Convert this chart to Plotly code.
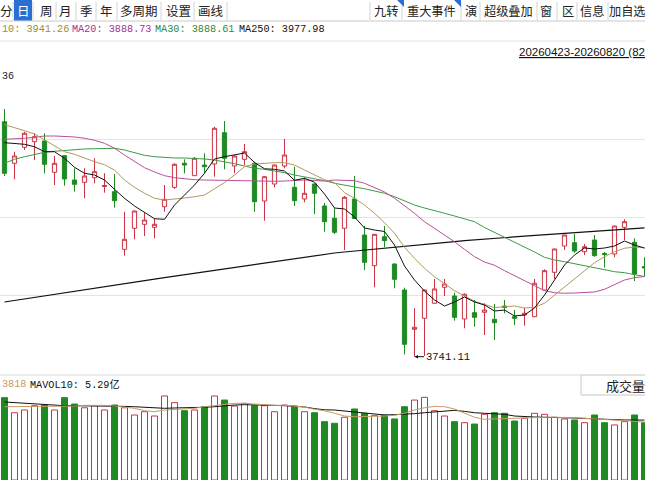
import plotly.graph_objects as go

# ---------------- data ----------------
idx = list(range(65))  # trading-day index of visible candles

open_ = [4173.5, 4097.0, 4126.4, 4136.7, 4138.0, 4080.4, 4111.0, 4066.2, 4062.0, 4070.5,
         4054.3, 4044.7, 3938.7, 3977.4, 3984.7, 3979.2, 4017.1, 4052.8, 4097.0, 4074.2,
         4093.8, 4095.7, 4153.3, 4092.0, 4104.3, 4097.0, 4027.6, 4058.9, 4092.0, 4052.8,
         4031.3, 4058.9, 4018.4, 3995.8, 3977.4, 4031.3, 3965.0, 3908.6, 3961.9, 3911.7,
         3863.8, 3791.5, 3811.8, 3839.4, 3868.8, 3852.8, 3810.5, 3822.1, 3822.8, 3809.9,
         3834.4, 3814.7, 3817.8, 3814.7, 3863.8, 3896.4, 3944.8, 3950.9, 3934.3, 3955.8,
         3931.0, 3930.1, 3979.2, 3951.6, 3907.1]
high = [4196.9, 4118.3, 4155.1, 4152.2, 4152.2, 4110.4, 4112.0, 4087.8, 4087.8, 4106.2,
        4078.6, 4077.3, 4007.9, 4010.0, 4006.1, 3995.8, 4057.0, 4097.0, 4104.3, 4108.6,
        4115.4, 4164.3, 4174.8, 4111.0, 4132.5, 4099.9, 4073.6, 4094.5, 4141.7, 4090.7,
        4070.5, 4059.5, 4023.9, 4014.2, 4036.8, 4073.6, 3981.6, 3966.9, 3981.6, 3912.5,
        3868.1, 3830.2, 3864.5, 3884.1, 3884.1, 3858.9, 3857.8, 3845.4, 3839.4, 3838.1,
        3845.4, 3827.0, 3831.3, 3884.1, 3901.9, 3940.0, 3965.6, 3966.9, 3948.5, 3965.0,
        3933.8, 3982.2, 3993.9, 3959.0, 3924.0]
low = [4073.6, 4067.5, 4121.4, 4103.0, 4078.6, 4057.0, 4055.8, 4044.7, 4032.6, 4060.2,
       4042.9, 4015.3, 3927.0, 3957.1, 3963.2, 3959.0, 4007.9, 4049.7, 4078.6, 4073.6,
       4078.6, 4072.3, 4085.9, 4078.6, 4093.8, 4007.9, 3991.4, 4052.8, 4087.8, 4018.4,
       4025.2, 4003.7, 3971.1, 3966.9, 3937.4, 3994.5, 3900.6, 3868.8, 3942.4, 3867.0,
       3745.5, 3741.11, 3742.4, 3838.7, 3852.8, 3807.4, 3793.4, 3796.3, 3781.0, 3771.8,
       3821.0, 3799.4, 3798.2, 3814.0, 3863.0, 3884.1, 3937.4, 3932.5, 3928.2, 3925.1,
       3905.2, 3924.0, 3955.8, 3880.4, 3888.3]
close = [4078.6, 4110.4, 4152.2, 4145.9, 4095.1, 4097.0, 4068.1, 4058.3, 4073.6, 4081.5,
         4056.1, 4028.2, 3957.1, 4009.2, 3992.6, 3984.7, 4030.7, 4095.1, 4093.8, 4106.2,
         4090.7, 4161.4, 4106.2, 4110.4, 4118.3, 4026.3, 4072.3, 4093.8, 4112.2, 4028.2,
         4041.8, 4041.8, 3989.5, 3970.0, 4034.4, 3995.4, 3914.8, 3966.3, 3954.6, 3883.5,
         3763.9, 3795.2, 3863.8, 3865.7, 3874.9, 3813.6, 3855.9, 3813.6, 3827.0, 3803.7,
         3831.6, 3811.8, 3821.0, 3876.2, 3899.4, 3939.3, 3965.0, 3935.6, 3943.5, 3927.0,
         3929.2, 3981.6, 3989.5, 3893.3, 3904.3]

ma5 = [4134.9, 4133.8, 4131.9, 4127.5, 4118.3, 4118.3, 4106.2, 4089.6, 4078.6, 4075.4,
       4066.2, 4049.1, 4032.6, 4018.4, 4006.1, 3995.0, 3993.9, 4020.2, 4038.6, 4057.0,
       4078.6, 4104.9, 4109.1, 4112.8, 4115.9, 4098.4, 4086.9, 4085.9, 4082.8, 4065.7,
       4069.4, 4062.2, 4040.5, 4014.7, 4012.9, 3998.2, 3977.9, 3974.2, 3971.5, 3946.6,
       3908.0, 3882.2, 3862.0, 3845.4, 3834.4, 3841.8, 3851.0, 3841.8, 3836.2, 3825.2,
       3827.0, 3816.0, 3817.8, 3830.7, 3854.6, 3882.2, 3909.8, 3928.2, 3941.1, 3939.3,
       3941.1, 3944.8, 3954.0, 3946.6, 3941.1]
ma10 = [4168.0, 4163.2, 4157.0, 4150.9, 4139.8, 4128.8, 4118.3, 4113.5, 4106.2, 4099.9,
        4094.4, 4084.6, 4066.2, 4052.8, 4041.8, 4032.6, 4029.4, 4030.7, 4033.1, 4035.5,
        4038.6, 4050.2, 4061.3, 4075.4, 4090.7, 4095.7, 4097.0, 4098.1, 4098.1, 4093.8,
        4084.6, 4075.4, 4066.8, 4061.3, 4042.9, 4032.6, 4020.2, 4005.0, 3987.7, 3968.2,
        3942.4, 3922.2, 3903.8, 3888.3, 3874.9, 3862.6, 3852.8, 3843.1, 3837.5, 3831.3,
        3833.1, 3834.4, 3830.7, 3832.0, 3839.4, 3854.6, 3869.9, 3885.4, 3900.6, 3914.1,
        3925.1, 3934.3, 3940.6, 3943.0, 3941.26]
ma20 = [4141.1, 4141.7, 4143.0, 4144.8, 4147.2, 4147.2, 4146.7, 4145.4, 4143.0, 4139.3,
        4133.8, 4124.6, 4112.2, 4099.9, 4088.9, 4081.0, 4074.2, 4070.5, 4068.1, 4066.8,
        4066.2, 4065.7, 4065.0, 4065.0, 4065.0, 4064.4, 4063.9, 4063.9, 4064.4, 4065.7,
        4066.2, 4065.3, 4064.4, 4066.2, 4066.2, 4065.0, 4060.2, 4052.8, 4044.2, 4032.6,
        4019.0, 4005.0, 3989.5, 3977.4, 3965.0, 3952.7, 3938.7, 3925.1, 3915.4, 3909.3,
        3899.4, 3890.2, 3881.0, 3871.8, 3862.6, 3858.9, 3857.8, 3858.3, 3858.9, 3860.2,
        3865.1, 3873.6, 3882.2, 3886.5, 3888.73]
ma30 = [4097.0, 4104.3, 4109.1, 4113.5, 4117.2, 4119.1, 4120.9, 4122.7, 4123.3, 4123.8,
        4124.6, 4124.6, 4121.4, 4116.5, 4111.7, 4109.1, 4107.3, 4106.7, 4106.7, 4106.2,
        4104.9, 4103.0, 4099.9, 4096.2, 4092.0, 4087.8, 4085.9, 4083.4, 4079.7, 4075.4,
        4072.3, 4068.6, 4065.0, 4060.2, 4057.0, 4053.9, 4050.2, 4046.0, 4041.8, 4035.5,
        4028.2, 4020.2, 4014.7, 4009.2, 4005.0, 4000.0, 3995.0, 3989.5, 3978.8, 3970.0,
        3961.4, 3952.2, 3943.0, 3933.8, 3924.0, 3919.0, 3915.9, 3912.2, 3908.6, 3904.9,
        3900.6, 3897.5, 3895.7, 3892.7, 3888.61]
ma250 = [3841.8, 3844.5, 3847.3, 3850.2, 3853.0, 3855.7, 3858.5, 3861.3, 3864.2, 3867.0,
         3869.7, 3872.5, 3875.3, 3878.2, 3881.0, 3883.7, 3886.7, 3889.4, 3892.2, 3894.8,
         3897.5, 3900.3, 3903.0, 3905.6, 3908.4, 3911.1, 3913.9, 3916.7, 3919.2, 3922.0,
         3924.7, 3927.5, 3930.3, 3931.9, 3933.8, 3935.4, 3937.1, 3938.9, 3940.6, 3942.4,
         3944.1, 3945.9, 3947.6, 3949.2, 3951.1, 3952.7, 3954.6, 3956.2, 3957.7, 3959.0,
         3960.3, 3961.5, 3962.8, 3964.1, 3965.4, 3966.7, 3968.0, 3969.3, 3970.6, 3971.9,
         3973.1, 3974.4, 3975.7, 3977.0, 3977.98]

vol = [7.27, 5.94, 6.18, 6.56, 6.62, 6.18, 7.27, 6.71, 6.38, 6.56,
       6.18, 6.62, 6.38, 5.74, 6.03, 5.65, 7.42, 6.83, 6.12, 6.18,
       6.47, 7.42, 7.06, 6.53, 6.77, 6.56, 6.56, 6.03, 6.62, 6.53,
       6.03, 5.94, 5.15, 5.01, 5.54, 6.27, 5.89, 5.68, 5.74, 5.39,
       6.47, 7.06, 7.30, 6.12, 5.65, 5.15, 5.06, 4.94, 5.80, 5.94,
       5.89, 5.21, 5.45, 5.89, 5.80, 5.54, 5.39, 5.30, 5.06, 5.74,
       5.06, 4.86, 5.15, 5.74, 5.06]
mavol5 = [6.47, 6.47, 6.47, 6.47, 6.47, 6.47, 6.47, 6.53, 6.59, 6.62,
          6.59, 6.53, 6.45, 6.33, 6.12, 6.03, 6.18, 6.24, 6.24, 6.33,
          6.47, 6.59, 6.68, 6.77, 6.77, 6.71, 6.62, 6.59, 6.59, 6.53,
          6.45, 6.24, 6.12, 5.89, 5.65, 5.59, 5.59, 5.62, 5.65, 5.71,
          5.89, 6.18, 6.38, 6.50, 6.47, 6.27, 5.89, 5.54, 5.36, 5.39,
          5.45, 5.50, 5.54, 5.54, 5.54, 5.54, 5.54, 5.50, 5.45, 5.41,
          5.36, 5.30, 5.24, 5.18, 5.12]
mavol10 = [6.89, 6.83, 6.77, 6.71, 6.65, 6.62, 6.56, 6.56, 6.56, 6.53,
           6.53, 6.50, 6.50, 6.47, 6.42, 6.36, 6.33, 6.36, 6.36, 6.38,
           6.42, 6.47, 6.56, 6.62, 6.65, 6.65, 6.62, 6.59, 6.56, 6.53,
           6.45, 6.30, 6.20, 6.18, 6.09, 6.00, 5.92, 5.83, 5.74, 5.77,
           5.80, 5.86, 5.94, 6.03, 6.12, 6.15, 6.06, 5.94, 5.89, 5.86,
           5.80, 5.65, 5.59, 5.56, 5.54, 5.54, 5.50, 5.47, 5.45, 5.41,
           5.39, 5.33, 5.30, 5.30, 5.29]

price_grid = [3853.7, 3997.6, 4141.1]
low_label = "3741.11"

toolbar_left = ["分", "日", "周", "月", "季", "年", "多周期", "设置", "画线"]
toolbar_right = ["九转", "重大事件", "演", "超级叠加", "窗", "区", "信息", "加自选"]
legend_items = [("10: 3941.26", "ma10"), ("MA20: 3888.73", "ma20"),
                ("MA30: 3888.61", "ma30"), ("MA250: 3977.98", "ma250")]
date_range_text = "20260423-20260820 (82"

# ---------------- styling ----------------
W, H = 645, 484
RED = "#cc3342"
GREEN = "#1f8a24"
C = {"ma5": "#111111", "ma10": "#b09a5c", "ma20": "#b8509a", "ma30": "#3c9a44",
     "ma250": "#111111", "mavol5": "#c89a62", "mavol10": "#111111"}
LEG = {"ma10": "#a08a3a", "ma20": "#a8308c", "ma30": "#2c8a3a", "ma250": "#111111"}
MONO = "Liberation Mono, Noto Sans CJK SC"
CJK = "Noto Sans CJK SC"


def X(px):
    return px / W


def Y(py):
    return 1 - py / H


fig = go.Figure()

fig.add_trace(go.Candlestick(
    x=idx, open=open_, high=high, low=low, close=close,
    increasing=dict(line=dict(color=RED, width=1), fillcolor="white"),
    decreasing=dict(line=dict(color=GREEN, width=1), fillcolor=GREEN),
    whiskerwidth=0, showlegend=False, hoverinfo="skip",
    xaxis="x", yaxis="y"))

for name, series, w in [("ma250", ma250, 1.2), ("ma30", ma30, 1), ("ma20", ma20, 1),
                        ("ma10", ma10, 1), ("ma5", ma5, 1)]:
    fig.add_trace(go.Scatter(x=idx, y=series, mode="lines",
                             line=dict(color=C[name], width=w),
                             showlegend=False, hoverinfo="skip",
                             xaxis="x", yaxis="y"))

up = [c >= o for o, c in zip(open_, close)]
fig.add_trace(go.Bar(
    x=idx, y=vol, width=0.6,
    marker=dict(color=["white" if u else GREEN for u in up],
                line=dict(color=[RED if u else GREEN for u in up], width=1)),
    showlegend=False, hoverinfo="skip", xaxis="x2", yaxis="y2"))
for name, series in [("mavol10", mavol10), ("mavol5", mavol5)]:
    fig.add_trace(go.Scatter(x=idx, y=series, mode="lines",
                             line=dict(color=C[name], width=1),
                             showlegend=False, hoverinfo="skip",
                             xaxis="x2", yaxis="y2"))

# pixel layout of the panels
price_top, price_bot = 44, 372
k_price = 1.84  # price units per pixel
p_at_356 = 3741.11
y_hi = p_at_356 + (356.7 - price_top) * k_price
y_lo = p_at_356 - (price_bot - 356.7) * k_price
vol_top, vol_bot = 376, 480
vol_hi = (vol_bot - vol_top) * 0.0883

xr = [-0.45, 64.05]
axis_common = dict(showgrid=False, zeroline=False, showticklabels=False,
                   ticks="", showline=False, fixedrange=True)

fig.update_layout(
    width=W, height=H, autosize=False,
    margin=dict(l=0, r=0, t=0, b=0, pad=0),
    paper_bgcolor="white", plot_bgcolor="white",
    boxgap=0.4,
    xaxis=dict(domain=[0, 1], range=xr, rangeslider=dict(visible=False),
               anchor="y", **axis_common),
    yaxis=dict(domain=[Y(price_bot), Y(price_top)], range=[y_lo, y_hi],
               anchor="x", showgrid=True, gridcolor="#e4e4e4", gridwidth=1,
               tickvals=price_grid, zeroline=False, showticklabels=False,
               ticks="", fixedrange=True),
    xaxis2=dict(domain=[0, 1], range=xr, anchor="y2", **axis_common),
    yaxis2=dict(domain=[Y(vol_bot), Y(vol_top)], range=[0, vol_hi],
                anchor="x2", **axis_common),
    showlegend=False,
)

shapes = []
ann = []

# toolbar
shapes.append(dict(type="line", xref="paper", yref="paper", x0=0, x1=1,
                   y0=Y(21), y1=Y(21), line=dict(color="#c9c9c9", width=1)))
shapes.append(dict(type="rect", xref="paper", yref="paper", x0=X(14), x1=X(32),
                   y0=Y(20.5), y1=Y(0), fillcolor="#2a6fd4", line=dict(width=0)))
left_cx = [6.5, 23, 46.5, 65.5, 86, 106.5, 139, 178, 210.5]
right_cx = [386, 431, 471, 508, 546, 568, 592, 627]
seps = [13, 33, 56, 76, 96, 117, 161, 194, 227,
        370, 402, 461, 480, 537, 557, 577, 608]
for sx in seps:
    shapes.append(dict(type="line", xref="paper", yref="paper", x0=X(sx), x1=X(sx),
                       y0=Y(2), y1=Y(20), line=dict(color="#d4d4d4", width=1)))
for tx in [404, 461]:
    shapes.append(dict(type="path", xref="paper", yref="paper",
                       path=f"M {X(tx-7)} {Y(0)} L {X(tx)} {Y(0)} L {X(tx)} {Y(7)} Z",
                       fillcolor="#2a6fd4", line=dict(width=0)))
for t, cx in zip(toolbar_left, left_cx):
    ann.append(dict(text=t, x=X(cx), y=Y(10.5), xref="paper", yref="paper",
                    showarrow=False, xanchor="center", yanchor="middle",
                    font=dict(family=CJK, size=12.5,
                              color="white" if t == "日" else "#222222")))
for t, cx in zip(toolbar_right, right_cx):
    ann.append(dict(text=t, x=X(cx), y=Y(10.5), xref="paper", yref="paper",
                    showarrow=False, xanchor="center", yanchor="middle",
                    font=dict(family=CJK, size=12.2, color="#222222")))

# MA legend row
shapes.append(dict(type="line", xref="paper", yref="paper", x0=0, x1=1,
                   y0=Y(41), y1=Y(41), line=dict(color="#e2e2e2", width=1)))
for (t, key), lx in zip(legend_items, [0, 70, 153, 237]):
    ann.append(dict(text=t, x=X(lx), y=Y(29.5), xref="paper", yref="paper",
                    showarrow=False, xanchor="left", yanchor="middle",
                    font=dict(family=MONO, size=10.2, color=LEG[key])))

ann.append(dict(text=date_range_text, x=X(517), y=Y(52), xref="paper", yref="paper",
                showarrow=False, xanchor="left", yanchor="middle",
                font=dict(family="Liberation Sans", size=11.5, color="#111111",
                          lineposition="under")))
ann.append(dict(text="36", x=X(0), y=Y(76), xref="paper", yref="paper",
                showarrow=False, xanchor="left", yanchor="middle",
                font=dict(family=MONO, size=10, color="#222222")))

# low marker
lo_i = low.index(min(low))
ann.append(dict(text=low_label, x=idx[lo_i], y=min(low), xref="x", yref="y",
                showarrow=True, ax=33, ay=0, axref="pixel", ayref="pixel",
                arrowhead=2, arrowsize=0.7, arrowwidth=1, arrowcolor="#111111",
                standoff=0, startstandoff=0,
                font=dict(family=MONO, size=10.5, color="#111111")))

# volume panel header
shapes.append(dict(type="line", xref="paper", yref="paper", x0=0, x1=X(581),
                   y0=Y(375), y1=Y(375), line=dict(color="#dcdcdc", width=1)))
shapes.append(dict(type="rect", xref="paper", yref="paper", x0=X(581), x1=X(647),
                   y0=Y(395), y1=Y(375), fillcolor="white",
                   line=dict(color="#c8c8c8", width=1)))
ann.append(dict(text="3818", x=X(0), y=Y(384), xref="paper", yref="paper",
                showarrow=False, xanchor="left", yanchor="middle",
                font=dict(family=MONO, size=10.2, color=C["mavol5"])))
ann.append(dict(text="MAVOL10: 5.29亿", x=X(28), y=Y(384), xref="paper", yref="paper",
                showarrow=False, xanchor="left", yanchor="middle",
                font=dict(family=MONO, size=10.2, color="#111111")))
ann.append(dict(text="成交量", x=X(625), y=Y(385), xref="paper", yref="paper",
                showarrow=False, xanchor="center", yanchor="middle",
                font=dict(family=CJK, size=13, color="#222222")))

fig.update_layout(shapes=shapes, annotations=ann)
fig.write_html(
    "out.html",
    config={"displayModeBar": False, "staticPlot": True},
    post_script="document.body.style.margin='0';document.body.style.padding='0';"
                "document.body.style.overflow='hidden';",
)
